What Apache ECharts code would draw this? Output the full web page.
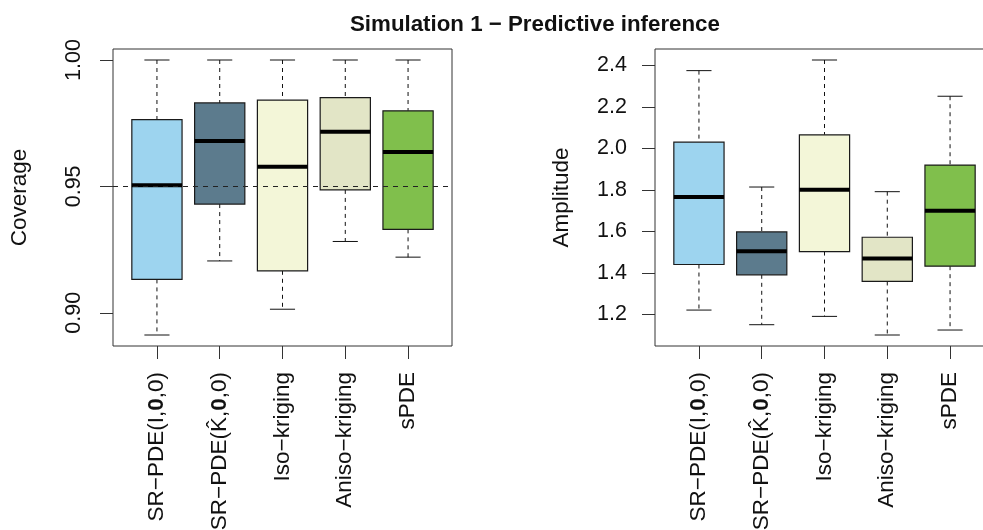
<!DOCTYPE html>
<html>
<head>
<meta charset="utf-8">
<script src="https://cdn.jsdelivr.net/npm/echarts@6/dist/echarts.min.js"></script>
<style>
  html, body { margin: 0; padding: 0; background: #fff; }
  #chart { width: 983px; height: 530px; }
</style>
</head>
<body>
<div id="chart"></div>
<script>
// Methods compared in the simulation study
const methods = ['SR−PDE(I,0,0)', 'SR−PDE(K̂,0,0)', 'Iso−kriging', 'Aniso−kriging', 'sPDE'];
const methodLabels = [
  'SR−PDE(I,{b|0},0)',
  'SR−PDE(K̂,{b|0},0)',
  'Iso−kriging',
  'Aniso−kriging',
  'sPDE'
];
const fills = ['#9DD4EF', '#5C7B8D', '#F3F6D8', '#E2E5C6', '#80BF4C'];

// Coverage of the prediction intervals: whisker ends, quartiles, median
const coverageLow    = [0.8912, 0.9205, 0.9014, 0.9282, 0.9220];
const coverageQ1     = [0.9132, 0.9430, 0.9166, 0.9486, 0.9330];
const coverageMedian = [0.9504, 0.9680, 0.9578, 0.9716, 0.9636];
const coverageQ3     = [0.9764, 0.9830, 0.9841, 0.9851, 0.9799];
const coverageHigh   = [1.0000, 1.0000, 1.0000, 1.0000, 1.0000];
const coverageTarget = 0.95;
const coverageTicks  = [0.90, 0.95, 1.00];

// Amplitude of the prediction intervals
const amplitudeLow    = [1.2208, 1.1503, 1.1904, 1.1007, 1.1247];
const amplitudeQ1     = [1.4403, 1.3907, 1.5028, 1.3586, 1.4323];
const amplitudeMedian = [1.7656, 1.5044, 1.8008, 1.4692, 1.6999];
const amplitudeQ3     = [2.0299, 1.5973, 2.0652, 1.5717, 1.9194];
const amplitudeHigh   = [2.3744, 1.8136, 2.4256, 1.7912, 2.2510];
const amplitudeTicks  = [1.2, 1.4, 1.6, 1.8, 2.0, 2.2, 2.4];

const positions = methods.map((_, i) => i + 1);

const FONT = "'Liberation Sans', Arial, Helvetica, sans-serif";
const INK = '#111';
const FRAME = '#333';
const LABEL_SIZE = 22.5;

function boxRows(lo, q1, med, q3, hi) {
  return positions.map((p, i) => [p, lo[i], q1[i], med[i], q3[i], hi[i]]);
}

// Padded data range (4% on each side), as a classic boxplot does
function paddedRange(lo, hi) {
  const a = Math.min(...lo), b = Math.max(...hi);
  const pad = (b - a) * 0.04;
  return [a - pad, b + pad];
}

function renderBox(params, api) {
  const x = api.value(0);
  const w = api.size([0.8, 0])[0];
  const pLo = api.coord([x, api.value(1)]);
  const pQ1 = api.coord([x, api.value(2)]);
  const pMed = api.coord([x, api.value(3)]);
  const pQ3 = api.coord([x, api.value(4)]);
  const pHi = api.coord([x, api.value(5)]);
  const cx = pMed[0];
  const dash = { stroke: '#111', lineWidth: 1, lineDash: [4, 4] };
  const solid = { stroke: '#111', lineWidth: 1 };
  return {
    type: 'group',
    children: [
      { type: 'line', shape: { x1: cx, y1: pHi[1], x2: cx, y2: pQ3[1] }, style: dash },
      { type: 'line', shape: { x1: cx, y1: pQ1[1], x2: cx, y2: pLo[1] }, style: dash },
      { type: 'line', shape: { x1: cx - w / 4, y1: pHi[1], x2: cx + w / 4, y2: pHi[1] }, style: solid },
      { type: 'line', shape: { x1: cx - w / 4, y1: pLo[1], x2: cx + w / 4, y2: pLo[1] }, style: solid },
      {
        type: 'rect',
        shape: { x: cx - w / 2, y: pQ3[1], width: w, height: pQ1[1] - pQ3[1] },
        style: { fill: fills[params.dataIndex], stroke: '#1a1a1a', lineWidth: 1.2 }
      },
      {
        type: 'line',
        shape: { x1: cx - w / 2, y1: pMed[1], x2: cx + w / 2, y2: pMed[1] },
        style: { stroke: '#000', lineWidth: 4 }
      }
    ]
  };
}

function categoryAxis(gridIndex) {
  return {
    type: 'value', gridIndex,
    min: 0.3, max: 5.7,
    axisLine: { show: false },
    splitLine: { show: false },
    axisTick: {
      show: true, length: 13, customValues: positions,
      lineStyle: { color: FRAME, width: 1 }
    },
    axisLabel: {
      customValues: positions,
      rotate: 90, margin: 26,
      fontSize: LABEL_SIZE, fontFamily: FONT, color: INK,
      formatter: v => methodLabels[Math.round(v) - 1],
      rich: { b: { fontWeight: 'bold', fontSize: LABEL_SIZE, fontFamily: FONT, color: INK } }
    }
  };
}

const covRange = paddedRange(coverageLow, coverageHigh);
const ampRange = paddedRange(amplitudeLow, amplitudeHigh);

const gridBase = {
  top: 49, width: 339, height: 297,
  show: true, borderColor: FRAME, borderWidth: 1, backgroundColor: 'transparent',
  containLabel: false, outerBoundsMode: 'none'
};

const option = {
  animation: false,
  backgroundColor: '#fff',
  title: {
    text: 'Simulation 1 − Predictive inference',
    left: 345, top: 9,
    textStyle: { fontSize: 22.3, fontWeight: 'bold', fontFamily: FONT, color: INK }
  },
  grid: [
    Object.assign({ left: 113 }, gridBase),
    Object.assign({ left: 655 }, gridBase)
  ],
  xAxis: [categoryAxis(0), categoryAxis(1)],
  yAxis: [
    {
      type: 'value', gridIndex: 0,
      min: covRange[0], max: covRange[1],
      name: 'Coverage', nameLocation: 'middle', nameGap: 82, nameRotate: 90,
      nameTextStyle: { fontSize: 22.5, fontFamily: FONT, color: INK },
      axisLine: { show: false },
      splitLine: { show: false },
      axisTick: { show: true, length: 13, customValues: coverageTicks, lineStyle: { color: FRAME } },
      axisLabel: {
        customValues: coverageTicks, rotate: 90, margin: 28,
        fontSize: 21.5, fontFamily: FONT, color: INK,
        formatter: v => v.toFixed(2)
      }
    },
    {
      type: 'value', gridIndex: 1,
      min: ampRange[0], max: ampRange[1],
      name: 'Amplitude', nameLocation: 'middle', nameGap: 82, nameRotate: 90,
      nameTextStyle: { fontSize: 22.5, fontFamily: FONT, color: INK },
      axisLine: { show: false },
      splitLine: { show: false },
      axisTick: { show: true, length: 13, customValues: amplitudeTicks, lineStyle: { color: FRAME } },
      axisLabel: {
        customValues: amplitudeTicks, margin: 28,
        fontSize: 21.5, fontFamily: FONT, color: INK,
        formatter: v => v.toFixed(1)
      }
    }
  ],
  series: [
    {
      type: 'custom', xAxisIndex: 0, yAxisIndex: 0,
      renderItem: renderBox,
      encode: { x: 0, y: [1, 2, 3, 4, 5] },
      data: boxRows(coverageLow, coverageQ1, coverageMedian, coverageQ3, coverageHigh),
      markLine: {
        silent: true, symbol: 'none', label: { show: false },
        lineStyle: { color: '#222', type: [5, 5], width: 1 },
        data: [{ yAxis: coverageTarget }]
      },
      z: 2
    },
    {
      type: 'custom', xAxisIndex: 1, yAxisIndex: 1,
      renderItem: renderBox,
      encode: { x: 0, y: [1, 2, 3, 4, 5] },
      data: boxRows(amplitudeLow, amplitudeQ1, amplitudeMedian, amplitudeQ3, amplitudeHigh),
      z: 2
    }
  ]
};

const chart = echarts.init(document.getElementById('chart'), null, { renderer: 'canvas' });
chart.setOption(option);
</script>
</body>
</html>
